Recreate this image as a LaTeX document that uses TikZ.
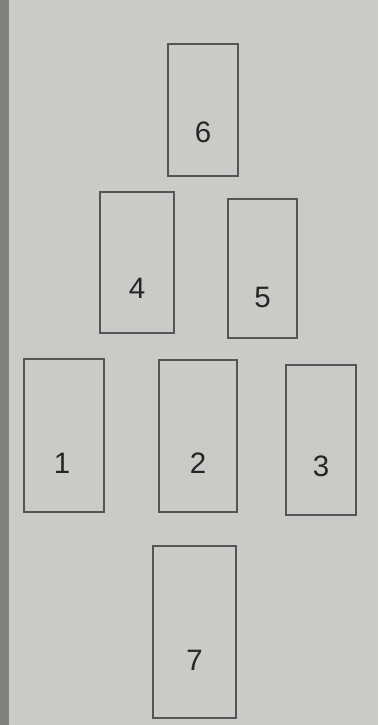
\documentclass[tikz,border=0pt]{standalone}
\usepackage{fontspec}
\setmainfont{Liberation Sans}
\definecolor{paper}{RGB}{204,202,198}
\definecolor{pageedge}{RGB}{130,128,125}
\definecolor{ink}{RGB}{85,85,85}
\tikzset{
  card/.style={draw=ink, rectangle, line width=1.8pt, inner sep=0pt},
  num/.style={font=\fontsize{42}{48}\selectfont, text=black!85}
}
\begin{document}
\begin{tikzpicture}[x=0.05cm, y=-0.05cm]
		\fill[paper] (0,0) rectangle (378,725);
		\fill[pageedge] (0,0) rectangle (9,725);

		\node[card, minimum width=3.5cm, minimum height=6.6cm] (c6) at (203,110) {};
		\node[card, minimum width=3.7cm, minimum height=7.05cm] (c4) at (137,262.5) {};
		\node[card, minimum width=3.45cm, minimum height=6.95cm] (c5) at (262.5,268.5) {};
		\node[card, minimum width=4cm, minimum height=7.65cm] (c1) at (64,435.5) {};
		\node[card, minimum width=3.9cm, minimum height=7.6cm] (c2) at (198,436) {};
		\node[card, minimum width=3.5cm, minimum height=7.5cm] (c3) at (321,440) {};
		\node[card, minimum width=4.15cm, minimum height=8.6cm] (c7) at (194.5,632) {};

		\node[num] (n6) at ([yshift=-1.1cm]c6.center) {6};
		\node[num] (n4) at ([yshift=-1.3cm]c4.center) {4};
		\node[num] (n5) at ([yshift=-1.45cm]c5.center) {5};
		\node[num] (n1) at ([xshift=-0.1cm, yshift=-1.4cm]c1.center) {1};
		\node[num] (n2) at ([yshift=-1.35cm]c2.center) {2};
		\node[num] (n3) at ([yshift=-1.3cm]c3.center) {3};
		\node[num] (n7) at ([yshift=-1.4cm]c7.center) {7};

	\end{tikzpicture}
\end{document}
